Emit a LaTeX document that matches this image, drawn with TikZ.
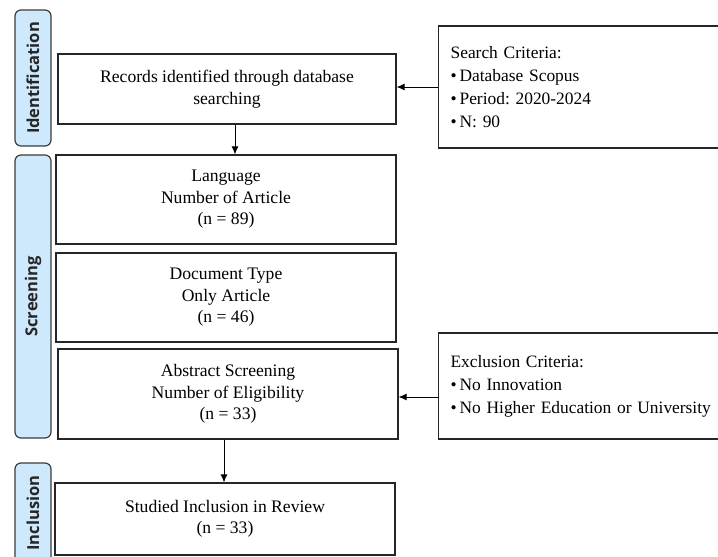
\documentclass[tikz,border=0pt]{standalone}
\usepackage{fontspec}
\setmainfont{Liberation Serif}
\newfontfamily\stagefont{Open Sans}
\usetikzlibrary{arrows.meta}

\definecolor{stageblue}{RGB}{206,233,252}
\definecolor{stageline}{RGB}{60,60,60}
\frenchspacing

\begin{document}
\begin{tikzpicture}[x=1pt, y=-1pt,
    box/.style={draw=black!85, line width=1.2pt, inner sep=0pt, align=center,
      font=\fontsize{17.6}{21.5}\selectfont},
    critbox/.style={draw=black!85, line width=1.2pt, anchor=west, inner xsep=12pt,
      text width=285pt, align=left, font=\fontsize{17.4}{23}\selectfont},
    stage/.style={draw=stageline, line width=1.2pt, fill=stageblue, rounded corners=6pt,
      rotate=90, inner sep=0pt, minimum height=36pt, text=black!85,
      font=\stagefont\bfseries\fontsize{16.5}{18}\selectfont},
    arr/.style={-{Latex[length=8pt,width=7pt]}, line width=0.9pt}]
    \useasboundingbox (0,0) rectangle (718,557);
    \clip (0,0) rectangle (718,557);
    % Stage bars on the left
    \node [stage, minimum width=136pt] (ident) at (33,78) {Identification};
    \node [stage, minimum width=283pt] (screen) at (33,296.5) {Screening};
    \node [stage, minimum width=100pt] (incl) at (33,513) {Inclusion};
    % Main flow boxes
    \node [box, minimum width=338pt, minimum height=70pt] (records) at (227,89)
      {Records identified through database\\searching};
    \node [box, minimum width=340pt, minimum height=89pt] (language) at (226,199.5)
      {Language\\Number of Article\\(n = 89)};
    \node [box, minimum width=340pt, minimum height=89pt] (doctype) at (226,297.5)
      {Document Type\\Only Article\\(n = 46)};
    \node [box, minimum width=340pt, minimum height=90pt] (abstract) at (228,394)
      {Abstract Screening\\Number of Eligibility\\(n = 33)};
    \node [box, minimum width=340pt, minimum height=72pt] (studied) at (225,519)
      {Studied Inclusion in Review\\(n = 33)};
    % Criteria boxes on the right
    \node [critbox, minimum height=122pt] (search) at (438,87)
      {Search Criteria:\\\textbullet\,Database Scopus\\\textbullet\,Period: 2020-2024\\\textbullet\,N: 90};
    \node [critbox, minimum height=106pt] (exclude) at (438,386)
      {Exclusion Criteria:\\\textbullet\,No Innovation\\\textbullet\,No Higher Education or University};
    \coordinate (exclout) at ([yshift=-11pt]exclude.west);
    % Arrows
    \draw [arr] (search.west) -- (records.east |- search.west);
    \draw [arr] ([xshift=8pt]records.south) -- ([xshift=8pt]records.south |- language.north);
    \draw [arr] (exclout) -- (abstract.east |- exclout);
    \draw [arr] ([xshift=-4pt]abstract.south) -- ([xshift=-4pt]abstract.south |- studied.north);
\end{tikzpicture}
\end{document}
